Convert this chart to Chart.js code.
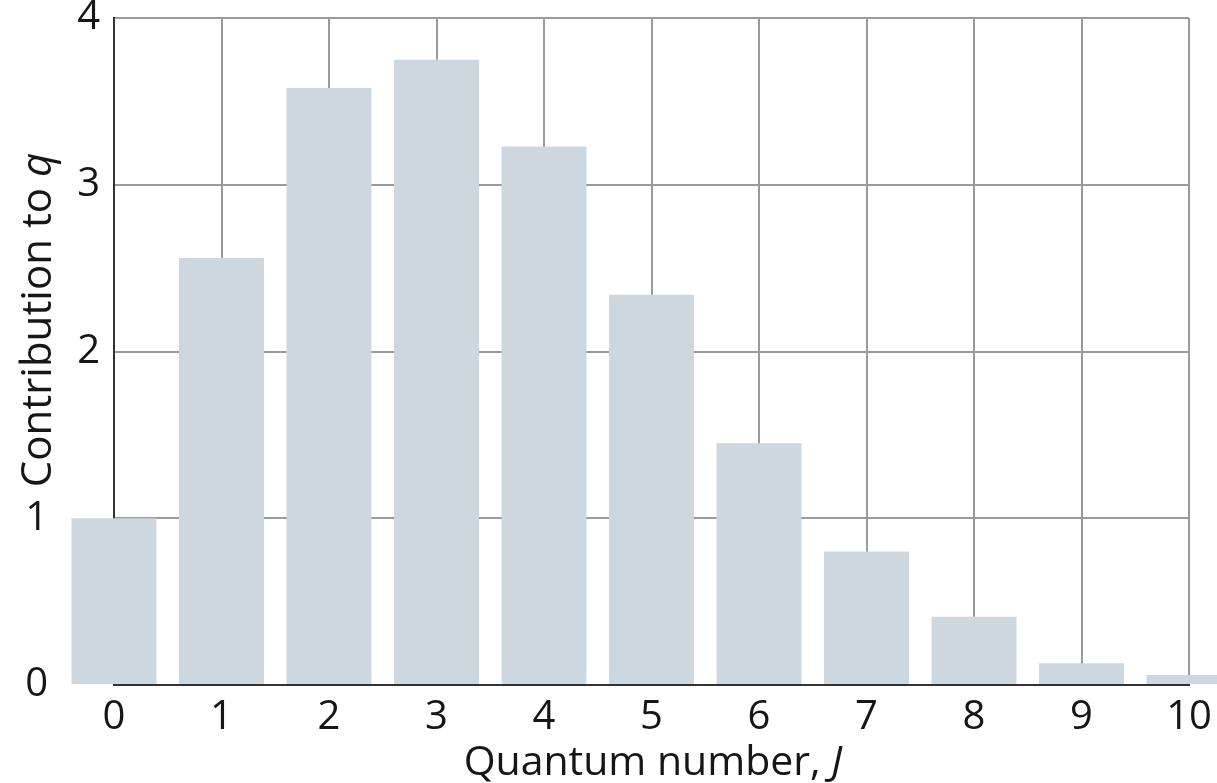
<!DOCTYPE html>
<html>
<head>
<meta charset="utf-8">
<script src="https://cdn.jsdelivr.net/npm/chart.js@4/dist/chart.umd.min.js"></script>
<style>
  html, body { margin: 0; padding: 0; background: #fff; }
  #wrap { width: 1217px; height: 783px; position: relative; }
</style>
</head>
<body>
<div id="wrap"><canvas id="qChart"></canvas></div>
<script>
// rotational levels J and their contribution to the partition function q
const jLabels = ['0', '1', '2', '3', '4', '5', '6', '7', '8', '9', '10'];
const contributions = [1.00, 2.56, 3.58, 3.75, 3.23, 2.34, 1.45, 0.80, 0.41, 0.13, 0.06];
const yMin = 0;
const yMax = 4;
const xTitleParts = [{ text: 'Quantum number, ', italic: false }, { text: 'J', italic: true }];
const yTitleParts = [{ text: 'Contribution to ', italic: false }, { text: 'q', italic: true }];

const fontFamily = '"Open Sans", "Liberation Sans", sans-serif';
const textColor = '#161616';

function drawParts(ctx, parts, cx, baseY, size) {
    let widths = parts.map(p => {
        ctx.font = (p.italic ? 'italic ' : '') + size + 'px ' + fontFamily;
        return ctx.measureText(p.text).width;
    });
    let x = cx - widths.reduce((a, b) => a + b, 0) / 2;
    parts.forEach((p, i) => {
        ctx.font = (p.italic ? 'italic ' : '') + size + 'px ' + fontFamily;
        ctx.fillText(p.text, x, baseY);
        x += widths[i];
    });
}

// axis titles with an italic symbol, which the built-in titles can't do
const axisTitles = {
    id: 'axisTitles',
    afterDraw(chart) {
        let ctx = chart.ctx;
        ctx.save();
        ctx.fillStyle = textColor;
        ctx.textAlign = 'left';
        ctx.textBaseline = 'alphabetic';
        drawParts(ctx, xTitleParts, 653, 775, 41);
        ctx.translate(51, 320);
        ctx.rotate(-Math.PI / 2);
        drawParts(ctx, yTitleParts, 0, 0, 42);
        ctx.restore();
    }
};

new Chart(document.getElementById('qChart'), {
    type: 'bar',
    data: {
        labels: jLabels,
        datasets: [{
            data: contributions,
            backgroundColor: '#cdd7df',
            borderWidth: 0,
            barPercentage: 0.79,
            categoryPercentage: 1,
            clip: false
        }]
    },
    options: {
        responsive: true,
        maintainAspectRatio: false,
        animation: false,
        layout: { padding: { top: 18, right: 28, left: 0, bottom: 0 } },
        plugins: {
            legend: { display: false },
            tooltip: { enabled: false }
        },
        scales: {
            x: {
                offset: false,
                z: 1,
                afterFit: s => { s.height = 98; s.paddingLeft = 0; s.paddingRight = 0; },
                grid: { offset: false, color: '#9b9b9b', lineWidth: 2, drawTicks: false },
                border: { color: '#333333', width: 2 },
                ticks: {
                    color: textColor,
                    padding: 9,
                    maxRotation: 0,
                    autoSkip: false,
                    font: { family: fontFamily, size: 40 }
                }
            },
            y: {
                min: yMin,
                max: yMax,
                z: 1,
                afterFit: s => { s.width = 114; s.paddingTop = 0; s.paddingBottom = 0; },
                grid: { color: '#9b9b9b', lineWidth: 2, drawTicks: false },
                border: { color: '#333333', width: 2 },
                ticks: {
                    stepSize: 1,
                    color: textColor,
                    padding: 14,
                    font: { family: fontFamily, size: 40 },
                    // the low labels sit left of the J = 0 bar
                    callback: v => v <= 1 ? v + '     ' : String(v)
                }
            }
        }
    },
    plugins: [axisTitles]
});
</script>
</body>
</html>
